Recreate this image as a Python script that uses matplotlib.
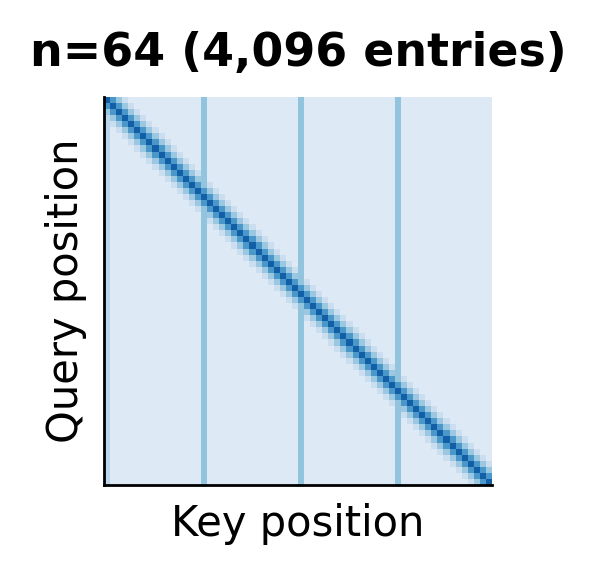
import numpy as np
import matplotlib
matplotlib.use("Agg")
import matplotlib.pyplot as plt

n = 64
base_level = 0.13
diag_level = 0.82
near_diag_level = [0.6, 0.38, 0.22]   # offsets 1..3 from the diagonal
stripe_cols = [16, 32, 48]
stripe_level = 0.4
first_col_level = 0.28

# build the attention-like matrix from the levels above
rows, cols = np.indices((n, n))
mat = np.full((n, n), base_level)
mat[:, 0] = first_col_level
for c in stripe_cols:
    mat[:, c] = stripe_level
for k, v in enumerate(near_diag_level, start=1):
    off = np.abs(rows - cols) == k
    mat[off] = np.maximum(mat[off], v)
mat[rows == cols] = diag_level

fig = plt.figure(figsize=(5.96, 5.74), dpi=100)
ax = fig.add_axes([104 / 596, 1 - 485 / 574, 388 / 596, 388 / 574])
ax.imshow(mat, cmap="Blues", vmin=0, vmax=1.0, aspect="auto", interpolation="nearest")
ax.set_xticks([])
ax.set_yticks([])
for s in ["top", "right"]:
    ax.spines[s].set_visible(False)
for s in ["left", "bottom"]:
    ax.spines[s].set_linewidth(2)
ax.set_xlabel("Key position", fontsize=30, labelpad=13)
ax.set_ylabel("Query position", fontsize=30, labelpad=12)
ax.set_title("n=64 (4,096 entries)", fontsize=33, fontweight="bold", pad=22)
fig.savefig("out.png", dpi=100)
